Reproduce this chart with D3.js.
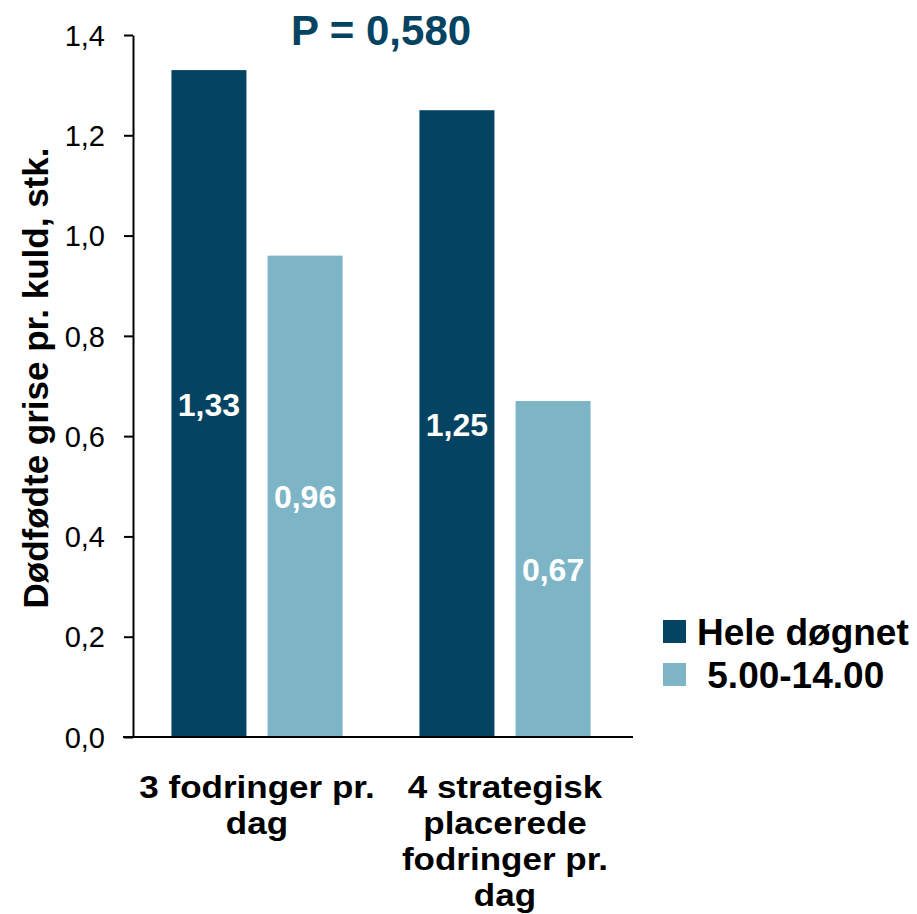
<!DOCTYPE html>
<html><head><meta charset="utf-8">
<script src="https://cdn.jsdelivr.net/npm/d3@7"></script>
<style>body{margin:0;background:#fff;} text{font-family:"Liberation Sans",Arial,sans-serif;}</style>
</head><body>
<svg id="c" width="917" height="914"></svg>
<script>
const categories = [["3 fodringer pr.","dag"],["4 strategisk","placerede","fodringer pr.","dag"]];
const seriesNames = ["Hele døgnet"," 5.00-14.00"];
const seriesValues = [[1.33,1.25],[0.96,0.67]];
const valueLabels = [["1,33","1,25"],["0,96","0,67"]];
const yTicks = [0,0.2,0.4,0.6,0.8,1.0,1.2,1.4];
const colors = ["#044361","#7db5c7"];
const title = "P = 0,580";
const yTitle = "Dødfødte grise pr. kuld, stk.";

const svg = d3.select("#c");
const x0 = d3.scaleBand().domain(d3.range(categories.length)).range([133,629]).paddingInner(0).paddingOuter(0);
const x1 = d3.scaleBand().domain(d3.range(seriesNames.length)).range([0,x0.bandwidth()]).paddingInner(0.22).paddingOuter(0.4);
const y = d3.scaleLinear().domain([0,1.4]).range([737,35]);

// bars
seriesNames.forEach((s,si)=>{
  const g = svg.append("g");
  g.selectAll("rect").data(seriesValues[si]).join("rect")
    .attr("x",(d,i)=>x0(i)+x1(si)).attr("width",x1.bandwidth())
    .attr("y",d=>y(d)).attr("height",d=>y(0)-y(d)).attr("fill",colors[si]);
  g.selectAll("text").data(seriesValues[si]).join("text")
    .attr("x",(d,i)=>x0(i)+x1(si)+x1.bandwidth()/2)
    .attr("y",d=>(y(d)+y(0))/2+12)
    .attr("text-anchor","middle").attr("fill","#fff").attr("font-weight","bold").attr("font-size",32)
    .text((d,i)=>valueLabels[si][i]);
});

// y axis
const ya = svg.append("g").attr("transform","translate(133,0)")
  .call(d3.axisLeft(y).tickValues(yTicks).tickSize(9).tickSizeOuter(0).tickFormat(d=>d3.format(".1f")(d).replace(".",",")));
ya.select(".domain").attr("stroke","#000").attr("stroke-width",2);
ya.selectAll(".tick line").attr("stroke","#000").attr("stroke-width",2);
ya.selectAll(".tick text").attr("font-size",29).attr("fill","#000").attr("x",-28).attr("dy","0.35em").attr("font-family","Liberation Sans, Arial, sans-serif");

// x axis line
svg.append("line").attr("x1",123).attr("x2",x0.range()[1]+4).attr("y1",y(0)).attr("y2",y(0)).attr("stroke","#000").attr("stroke-width",2);

// x labels
categories.forEach((lines,i)=>{
  const t = svg.append("text").attr("text-anchor","middle").attr("font-weight","bold").attr("font-size",31).attr("fill","#000")
    .attr("transform",`translate(${x0(i)+x0.bandwidth()/2},0) scale(1.13,1)`);
  lines.forEach((l,li)=>{
    t.append("tspan").attr("x",0).attr("y",798+li*36).text(l);
  });
});

// title
svg.append("text").attr("x",381).attr("y",45).attr("text-anchor","middle").attr("font-weight","bold").attr("font-size",42).attr("fill","#044361").text(title);

// y title
svg.append("text").attr("transform","translate(48,378) rotate(-90)").attr("text-anchor","middle").attr("font-weight","bold").attr("font-size",35).attr("fill","#000").text(yTitle);

// legend
seriesNames.forEach((s,si)=>{
  const ly = 620+si*43;
  svg.append("rect").attr("x",663).attr("y",ly).attr("width",23).attr("height",23).attr("fill",colors[si]);
  svg.append("text").attr("x",697).attr("y",ly+25).attr("font-weight","bold").attr("font-size",37).attr("fill","#000").attr("xml:space","preserve").style("white-space","pre").text(s);
});
</script>
</body></html>
